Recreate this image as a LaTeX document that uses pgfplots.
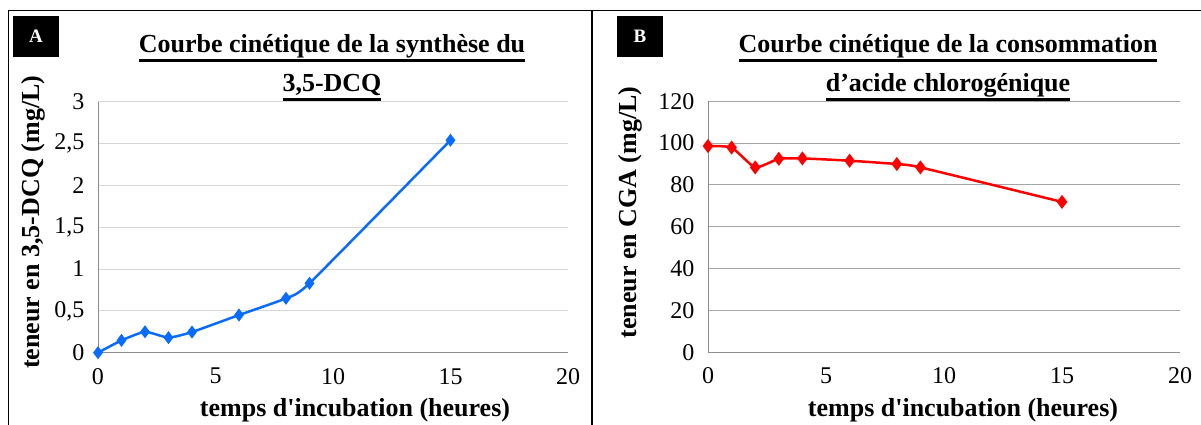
\documentclass[border=0pt]{standalone}
\usepackage{pgfplots}
\pgfplotsset{compat=1.18}
\usepackage{fontspec}
\setmainfont{Liberation Serif}[Ligatures=TeXOff]
\newcommand{\ul}[1]{\setbox0\hbox{#1}\rlap{\rule[-9pt]{\wd0}{2.5pt}}\box0}
\definecolor{blueA}{RGB}{10,108,255}
\definecolor{redB}{RGB}{255,0,0}
\definecolor{gridA}{RGB}{215,215,215}
\definecolor{gridB}{RGB}{165,165,165}
\pgfplotsset{
 panel/.style={
  scale only axis, width=470pt, height=251pt,
  xmin=0, xmax=20, xtick={0,5,10,15,20},
  axis x line*=bottom, axis y line*=left,
  axis line style={draw=gray!90, line width=1pt, -},
  ymajorgrids,
  major tick length=0pt,
  tick label style={font=\fontsize{24}{26}\selectfont},
  /pgf/number format/assume math mode=true,
  /pgf/number format/use comma,
  xticklabel style={yshift=-12pt},
  yticklabel style={xshift=-10pt},
  label style={font=\bfseries\fontsize{26}{28}\selectfont},
  clip=false,
 }
}
\begin{document}
\begin{tikzpicture}
\useasboundingbox (0,0) rectangle (1201pt,425pt);
% frame lines
\draw[line width=1.5pt] (8.5pt,0) -- (8.5pt,414.5pt) -- (1201pt,414.5pt);
\draw[line width=1.5pt] (592pt,0) -- (592pt,414.5pt);
% panel letters
\fill[black] (13pt,368pt) rectangle (59pt,409pt);
\node[text=white,font=\bfseries\fontsize{19}{21}\selectfont] at (36pt,388.5pt) {A};
\fill[black] (617pt,368pt) rectangle (663pt,409pt);
\node[text=white,font=\bfseries\fontsize{19}{21}\selectfont] at (640pt,388.5pt) {B};
% titles
\node[font=\bfseries\fontsize{26}{28}\selectfont,anchor=base,inner sep=0pt] at (332pt,372pt) {\ul{Courbe cinétique de la synthèse du}};
\node[font=\bfseries\fontsize{26}{28}\selectfont,anchor=base,inner sep=0pt] at (332pt,333pt) {\ul{3,5-DCQ}};
\node[font=\bfseries\fontsize{26}{28}\selectfont,anchor=base,inner sep=0pt] at (948pt,372pt) {\ul{Courbe cinétique de la consommation}};
\node[font=\bfseries\fontsize{26}{28}\selectfont,anchor=base,inner sep=0pt] at (948pt,333pt) {\ul{d’acide chlorogénique}};

\begin{axis}[panel, at={(98pt,72.3pt)}, anchor=south west,
  ymin=0, ymax=3, ytick={0,0.5,...,3},
  major grid style={gridA, line width=1pt},
  xlabel={temps d'incubation (heures)},
  ylabel={teneur en 3,5-DCQ (mg/L)},
  xlabel style={at={(axis description cs:0.5,0)}, anchor=center, yshift=-58pt, xshift=22pt},
  ylabel style={at={(axis description cs:-0.138,0.52)}, anchor=center},
]
\addplot[blueA, line width=2.5pt, smooth, tension=0.3, mark=diamond*, mark size=4.5pt, mark options={solid}]
 coordinates {(0,0) (1,0.147) (2,0.25) (3,0.18) (4,0.247) (6,0.45) (8,0.65) (9,0.83) (15,2.54)};
\end{axis}

\begin{axis}[panel, at={(708pt,72.7pt)}, anchor=south west, width=472pt,
  ymin=0, ymax=120, ytick={0,20,...,120},
  major grid style={gridB, line width=1pt},
  xlabel={temps d'incubation (heures)},
  ylabel={teneur en CGA (mg/L)},
  xlabel style={at={(axis description cs:0.5,0)}, anchor=center, yshift=-58pt, xshift=19pt},
  ylabel style={at={(axis description cs:-0.165,0.557)}, anchor=center},
]
\addplot[redB, line width=2.5pt, smooth, tension=0.3, mark=diamond*, mark size=5pt, mark options={solid}]
 coordinates {(0,98.6) (1,97.9) (2,88.4) (3,92.5) (4,92.7) (6,91.6) (8,90) (9,88.4) (15,71.9)};
\end{axis}
\end{tikzpicture}
\end{document}
